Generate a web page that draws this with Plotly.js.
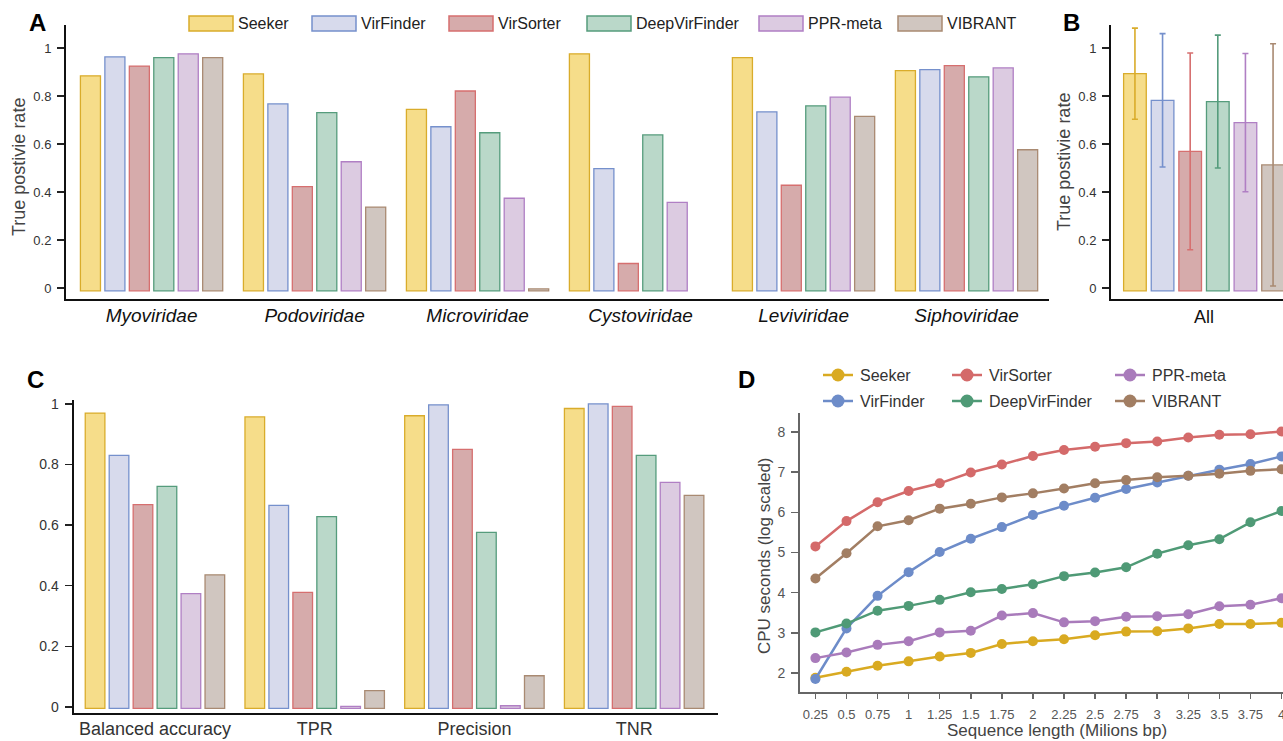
<!DOCTYPE html>
<html><head><meta charset="utf-8">
<script src="https://cdn.plot.ly/plotly-3.0.1.min.js"></script>
<style>html,body{margin:0;padding:0;background:#fff;} #chart{width:1283px;height:741px;}</style>
</head><body><div id="chart"></div>
<script>
// ---------- data ----------
const tools = ["Seeker", "VirFinder", "VirSorter", "DeepVirFinder", "PPR-meta", "VIBRANT"];

// Panel A: true positive rate per family
const families = ["Myoviridae", "Podoviridae", "Microviridae", "Cystoviridae", "Leviviridae", "Siphoviridae"];
const tprSeeker        = [0.884, 0.892, 0.744, 0.976, 0.960, 0.906];
const tprVirFinder     = [0.963, 0.767, 0.672, 0.497, 0.734, 0.910];
const tprVirSorter     = [0.925, 0.422, 0.821, 0.102, 0.428, 0.927];
const tprDeepVirFinder = [0.960, 0.731, 0.647, 0.638, 0.759, 0.880];
const tprPPRmeta       = [0.976, 0.526, 0.374, 0.357, 0.795, 0.917];
const tprVIBRANT       = [0.960, 0.337, -0.004, null, 0.715, 0.576];

// Panel B: all families, mean and spread
const allCategory = ["All"];
const allMean = [0.893, 0.782, 0.569, 0.777, 0.689, 0.513];
const allErr  = [0.190, 0.278, 0.410, 0.277, 0.288, 0.505];

// Panel C: metrics
const metrics = ["Balanced accuracy", "TPR", "Precision", "TNR"];
const metSeeker        = [0.970, 0.957, 0.961, 0.985];
const metVirFinder     = [0.830, 0.665, 0.997, 1.000];
const metVirSorter     = [0.668, 0.378, 0.850, 0.992];
const metDeepVirFinder = [0.728, 0.628, 0.576, 0.830];
const metPPRmeta       = [0.374, 0.002, 0.004, 0.741];
const metVIBRANT       = [0.436, 0.054, 0.103, 0.698];

// Panel D: CPU seconds (log scaled) vs sequence length
const seqLen = [0.25, 0.5, 0.75, 1, 1.25, 1.5, 1.75, 2, 2.25, 2.5, 2.75, 3, 3.25, 3.5, 3.75, 4];
const seqLabels = ["0.25","0.5","0.75","1","1.25","1.5","1.75","2","2.25","2.5","2.75","3","3.25","3.5","3.75","4"];
const cpuSeeker        = [1.88, 2.03, 2.18, 2.29, 2.41, 2.50, 2.72, 2.79, 2.84, 2.94, 3.03, 3.04, 3.11, 3.22, 3.22, 3.25];
const cpuVirFinder     = [1.85, 3.11, 3.92, 4.51, 5.01, 5.34, 5.63, 5.93, 6.16, 6.36, 6.58, 6.74, 6.91, 7.06, 7.20, 7.39];
const cpuVirSorter     = [5.15, 5.78, 6.25, 6.53, 6.72, 6.99, 7.19, 7.40, 7.55, 7.63, 7.72, 7.76, 7.86, 7.93, 7.94, 8.01];
const cpuDeepVirFinder = [3.01, 3.23, 3.55, 3.67, 3.82, 4.01, 4.09, 4.21, 4.41, 4.50, 4.63, 4.97, 5.18, 5.33, 5.75, 6.03];
const cpuPPRmeta       = [2.37, 2.51, 2.70, 2.79, 3.01, 3.05, 3.43, 3.49, 3.26, 3.29, 3.40, 3.41, 3.46, 3.66, 3.70, 3.86];
const cpuVIBRANT       = [4.35, 4.98, 5.65, 5.80, 6.09, 6.21, 6.37, 6.47, 6.59, 6.72, 6.80, 6.87, 6.91, 6.96, 7.03, 7.07];

// ---------- styles ----------
const fillColors = ["#f6dd8a", "#d7daec", "#d6abab", "#bad8c9", "#dccbe1", "#d0c6c0"];
const edgeColors = ["#d9ac2b", "#7590cc", "#d66f6f", "#559c7c", "#b07fc4", "#a98a72"];
const dotColors  = ["#d9aa21", "#6d8cc9", "#d46a6a", "#4f9a76", "#a97bbb", "#a27e63"];
const FONT = "Liberation Sans, Arial, Helvetica, sans-serif";
const W = 1283, H = 741;
const X = p => p / W, Y = p => 1 - p / H;

const tprSeries = [tprSeeker, tprVirFinder, tprVirSorter, tprDeepVirFinder, tprPPRmeta, tprVIBRANT];
const metSeries = [metSeeker, metVirFinder, metVirSorter, metDeepVirFinder, metPPRmeta, metVIBRANT];
const cpuSeries = [cpuSeeker, cpuVirFinder, cpuVirSorter, cpuDeepVirFinder, cpuPPRmeta, cpuVIBRANT];

const BASE_AB = -0.012, BASE_C = -0.005;
const traces = [];

tools.forEach((t, i) => {
  traces.push({
    type: "bar", name: t, x: families,
    y: tprSeries[i].map(v => v === null ? null : v - BASE_AB), base: BASE_AB,
    xaxis: "x", yaxis: "y", showlegend: false, hoverinfo: "skip",
    marker: { color: fillColors[i], line: { color: edgeColors[i], width: 1.3 } }
  });
});
tools.forEach((t, i) => {
  traces.push({
    type: "bar", name: t, x: allCategory,
    y: [allMean[i] - BASE_AB], base: BASE_AB,
    xaxis: "x2", yaxis: "y2", showlegend: false, hoverinfo: "skip",
    marker: { color: fillColors[i], line: { color: edgeColors[i], width: 1.3 } },
    error_y: { type: "data", array: [allErr[i]], visible: true, color: edgeColors[i], thickness: 1.6, width: 3 }
  });
});
tools.forEach((t, i) => {
  traces.push({
    type: "bar", name: t, x: metrics,
    y: metSeries[i].map(v => v - BASE_C), base: BASE_C,
    xaxis: "x3", yaxis: "y3", showlegend: false, hoverinfo: "skip",
    marker: { color: fillColors[i], line: { color: edgeColors[i], width: 1.3 } }
  });
});
tools.forEach((t, i) => {
  traces.push({
    type: "scatter", mode: "lines+markers", name: t, x: seqLen, y: cpuSeries[i],
    xaxis: "x4", yaxis: "y4", showlegend: false, hoverinfo: "skip",
    line: { color: dotColors[i], width: 2.5 },
    marker: { color: dotColors[i], size: 10 }
  });
});

// ---------- custom legends ----------
const shapes = [];
const annotations = [];
// Panel A legend
const legA = [189, 312, 449, 587, 759, 898];
tools.forEach((t, i) => {
  shapes.push({ type: "rect", xref: "paper", yref: "paper",
    x0: X(legA[i]), x1: X(legA[i] + 44), y0: Y(31), y1: Y(16),
    fillcolor: fillColors[i], line: { color: edgeColors[i], width: 1.5 } });
  annotations.push({ xref: "paper", yref: "paper", x: X(legA[i] + 47), y: Y(24),
    xanchor: "left", yanchor: "middle", showarrow: false, text: t,
    font: { family: FONT, size: 16, color: "#222" } });
});
// Panel D legend (3 columns, column-major)
const legDcols = [823, 952, 1115];
const legDrows = [375, 401];
const legDpos = [[0,0],[0,1],[1,0],[1,1],[2,0],[2,1]];
tools.forEach((t, i) => {
  const x0 = legDcols[legDpos[i][0]], cy = legDrows[legDpos[i][1]];
  shapes.push({ type: "line", xref: "paper", yref: "paper",
    x0: X(x0), x1: X(x0 + 30), y0: Y(cy), y1: Y(cy),
    line: { color: dotColors[i], width: 2.5 } });
  shapes.push({ type: "circle", xref: "paper", yref: "paper",
    x0: X(x0 + 15 - 6.5), x1: X(x0 + 15 + 6.5), y0: Y(cy + 6.5), y1: Y(cy - 6.5),
    fillcolor: dotColors[i], line: { width: 0 } });
  annotations.push({ xref: "paper", yref: "paper", x: X(x0 + 35), y: Y(cy),
    xanchor: "left", yanchor: "middle", showarrow: false, text: t,
    font: { family: FONT, size: 16, color: "#333" } });
});

// Panel letters
[["A", 37, 23], ["B", 1071, 23], ["C", 35, 379], ["D", 746, 379]].forEach(([s, x, y]) => {
  annotations.push({ xref: "paper", yref: "paper", x: X(x), y: Y(y), xanchor: "center", yanchor: "middle",
    showarrow: false, text: "<b>" + s + "</b>", font: { family: FONT, size: 24, color: "#000" } });
});
// Axis titles
const titles = [
  ["True postivie rate", 19, 167, -90, 18, "#444"],
  ["True postivie rate", 1064, 162, -90, 18, "#444"],
  ["CPU seconds (log scaled)", 764, 555, -90, 17, "#444"],
  ["Sequence length (Milions bp)", 1057, 730, 0, 17, "#444"]
];
titles.forEach(([s, x, y, a, sz, c]) => {
  annotations.push({ xref: "paper", yref: "paper", x: X(x), y: Y(y), xanchor: "center", yanchor: "middle",
    showarrow: false, text: s, textangle: a, font: { family: FONT, size: sz, color: c } });
});

// ---------- axes ----------
const barY = (dom, range, tv, tt) => ({
  domain: dom, range: range, tickvals: tv, ticktext: tt, ticks: "outside", ticklen: 7, tickwidth: 1.5,
  tickcolor: "#222", showline: true, linecolor: "#111", linewidth: 2, showgrid: false, zeroline: false,
  tickfont: { family: FONT, size: 13, color: "#333" }, ticklabelstandoff: 3, fixedrange: true
});
const catX = (dom, range, cats, font) => ({
  domain: dom, range: range, type: "category", categoryorder: "array", categoryarray: cats,
  ticks: "", showline: true, linecolor: "#111", linewidth: 2, showgrid: false, zeroline: false,
  tickfont: font, fixedrange: true
});
const yt = [0, 0.2, 0.4, 0.6, 0.8, 1];
const ytt = ["0", "0.2", "0.4", "0.6", "0.8", "1"];

const layout = {
  width: W, height: H, margin: { l: 0, r: 0, t: 0, b: 0 },
  paper_bgcolor: "#fff", plot_bgcolor: "rgba(0,0,0,0)",
  font: { family: FONT },
  barmode: "group", bargap: 0.1, bargroupgap: 0.18, showlegend: false,
  xaxis: Object.assign(catX([X(66), X(1049)], [-0.525, 5.506], families, { family: FONT, size: 19, style: "italic", color: "#111" }), { ticklabelstandoff: -2 }),
  yaxis: Object.assign(barY([Y(299), Y(25)], [-0.046, 1.096], yt, ytt), { anchor: "x" }),
  xaxis2: Object.assign(catX([X(1111), 1], [-0.505, 0.429], allCategory, { family: FONT, size: 18, color: "#111" }), { anchor: "y2" }),
  yaxis2: Object.assign(barY([Y(299), Y(25)], [-0.046, 1.096], yt, ytt), { anchor: "x2" }),
  xaxis3: Object.assign(catX([X(73.5), X(718)], [-0.51, 3.525], metrics, { family: FONT, size: 18, color: "#333" }), { anchor: "y3", ticklabelstandoff: -2 }),
  yaxis3: Object.assign(barY([Y(713), Y(400)], [-0.02, 1.013], yt, ytt), { anchor: "x3", tickfont: { family: FONT, size: 14, color: "#333" } }),
  xaxis4: {
    domain: [X(800), 1], range: [0.126, 4.012], anchor: "y4", tickvals: seqLen, ticktext: seqLabels,
    ticks: "outside", ticklen: 5, tickwidth: 1.5, tickcolor: "#666", showline: true, linecolor: "#666", linewidth: 2,
    showgrid: false, zeroline: false, tickfont: { family: FONT, size: 13, color: "#555" }, ticklabelstandoff: 4,
    ticklabeloverflow: "allow", fixedrange: true
  },
  yaxis4: {
    domain: [Y(692), Y(413)], range: [1.527, 8.47], anchor: "x4", tickvals: [2,3,4,5,6,7,8],
    ticks: "outside", ticklen: 7, tickwidth: 1.5, tickcolor: "#666", showline: true, linecolor: "#666", linewidth: 2,
    showgrid: false, zeroline: false, tickfont: { family: FONT, size: 14, color: "#555" }, ticklabelstandoff: 3, fixedrange: true
  },
  shapes: shapes,
  annotations: annotations
};

Plotly.newPlot("chart", traces, layout, { displayModeBar: false, staticPlot: true });
</script>
</body></html>
